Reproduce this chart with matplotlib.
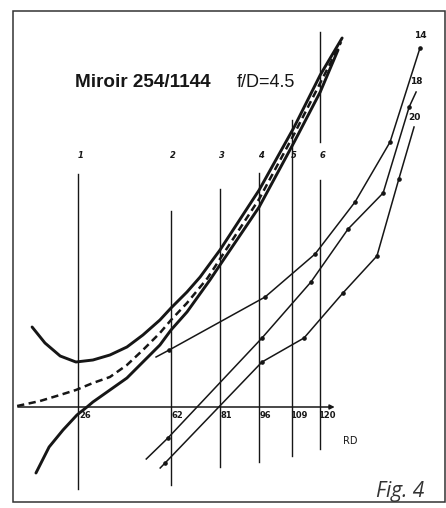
import matplotlib.pyplot as plt
from matplotlib.patches import Rectangle

# zone radii (RD) of the six test zones and the ink length of each zone line
zone_rd = [26, 62, 81, 96, 109, 120]
zone_names = ["1", "2", "3", "4", "5", "6"]
zone_top = [23.3, 19.6, 21.8, 23.4, 28.7, 22.7]
zone_bottom = [-8.2, -7.8, -6.0, -5.5, -4.9, -4.2]
zone6_upper = [26.5, 37.5]

# tolerance band: upper limit, ideal (dashed), lower limit
upper_rd = [8.1, 13.1, 19.0, 25.1, 31.7, 38.3, 44.9, 51.1, 57.7, 62.0, 68.2, 73.3, 81.0, 96.2, 109.8, 119.9, 128.4]
upper_y = [8.0, 6.4, 5.1, 4.5, 4.7, 5.2, 6.0, 7.2, 8.7, 9.9, 11.5, 13.0, 15.7, 21.7, 28.0, 33.2, 36.9]

ideal_rd = [2.3, 11.2, 18.9, 25.1, 31.7, 38.3, 44.9, 51.1, 57.7, 62.0, 68.2, 76.2, 81.0, 96.2, 109.8, 119.9, 128.0]
ideal_y = [0.1, 0.6, 1.2, 1.7, 2.4, 3.0, 4.2, 5.7, 7.4, 8.7, 10.4, 12.9, 14.8, 20.8, 27.3, 32.4, 36.5]

lower_rd = [9.6, 14.7, 20.1, 25.5, 29.4, 31.7, 38.3, 44.9, 51.1, 57.7, 62.0, 68.2, 77.1, 81.0, 96.2, 109.8, 119.9, 126.8]
lower_y = [-6.6, -4.0, -2.3, -0.8, 0.0, 0.5, 1.7, 2.9, 4.5, 6.2, 7.7, 9.5, 12.7, 14.2, 20.0, 26.5, 31.5, 35.7]

# measured series
s14_rd = [56.2, 61.3, 98.5, 117.9, 133.4, 147.0, 158.6]
s14_y = [5.0, 5.7, 11.0, 15.3, 20.5, 26.5, 35.9]
s18_rd = [52.4, 60.8, 97.3, 116.3, 130.7, 144.3, 154.4, 157.1]
s18_y = [-5.2, -3.1, 6.9, 12.5, 17.8, 21.4, 30.0, 31.5]
s20_rd = [57.8, 59.7, 97.3, 113.6, 128.7, 141.9, 150.4, 156.3]
s20_y = [-6.1, -5.6, 4.5, 6.9, 11.4, 15.1, 22.8, 28.0]

ink = "#161616"

fig = plt.figure(figsize=(4.46, 5.08), dpi=100)
ax = fig.add_axes([0, 0, 1, 1])
ax.set_xlim(-4.35, 168.7)
ax.set_ylim(-10.1, 40.7)
ax.axis("off")

# frame around the figure
fig.patches.append(Rectangle((12.5 / 446, 6 / 508), 432 / 446, 491 / 508,
                             transform=fig.transFigure, fill=False,
                             edgecolor="#333333", linewidth=1.1))

# horizontal axis with arrow
ax.annotate("", xy=(125.5, 0), xytext=(2.6, 0),
            arrowprops=dict(arrowstyle="-|>", color=ink, lw=1.1,
                            mutation_scale=7, shrinkA=0, shrinkB=0))

# zone lines
for rd, top, bot, name in zip(zone_rd, zone_top, zone_bottom, zone_names):
    ax.plot([rd, rd], [bot, top], color=ink, lw=1.0)
    ax.text(rd + 0.8, 25.2, name, fontsize=6, fontweight="bold", style="italic",
            ha="center", va="center", color=ink)
    ax.text(rd + 2.6, -0.9, str(rd), fontsize=6, fontweight="bold",
            ha="center", va="center", color=ink)
ax.plot([zone_rd[-1]] * 2, zone6_upper, color=ink, lw=1.0)

# tolerance band
ax.plot(upper_rd, upper_y, color=ink, lw=2.1, solid_capstyle="round")
ax.plot(lower_rd, lower_y, color=ink, lw=2.1, solid_capstyle="round")
ax.plot(ideal_rd, ideal_y, color=ink, lw=1.8, dashes=(2.9, 1.8))

# measurements
for xs, ys, name, ly in [(s14_rd, s14_y, "14", 37.2),
                         (s18_rd, s18_y, "18", 32.6),
                         (s20_rd, s20_y, "20", 29.0)]:
    n = len(xs)
    ax.plot(xs, ys, color=ink, lw=1.1, marker="o", markersize=2.3,
            markevery=list(range(1, n if name == "14" else n - 1)))
    ax.text(xs[-1] + 0.2, ly, name, fontsize=6.5, fontweight="bold",
            ha="center", va="center", color=ink)

ax.text(131.5, -3.4, "RD", fontsize=7, color=ink, ha="center", va="center")

fig.text(75 / 446, 1 - 87 / 508, "Miroir 254/1144", family="Liberation Sans",
         fontweight="bold", fontsize=13.6, va="baseline", color=ink)
fig.text(237 / 446, 1 - 87 / 508, "f/D=4.5", family="Liberation Sans",
         fontsize=13, va="baseline", color=ink)
fig.text(376 / 446, 1 - 497 / 508, "Fig. 4", family="Open Sans", style="italic",
         fontsize=15, va="baseline", color="#333333")

fig.savefig("out.png", dpi=100, facecolor="white")
